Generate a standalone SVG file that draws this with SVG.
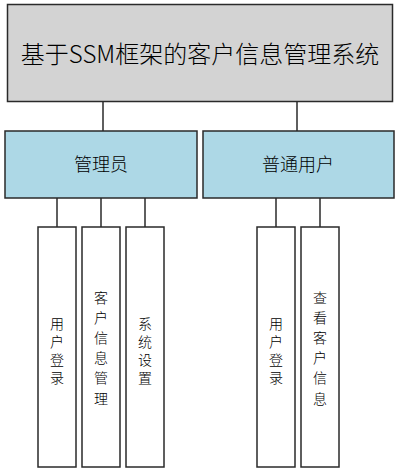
<svg xmlns="http://www.w3.org/2000/svg" width="400" height="473" viewBox="0 0 400 473">
<style>
.box{stroke:#2a2a2a;stroke-width:1.5}
.title{fill:#d3d3d3}
.role{fill:#add8e6}
.leaf{fill:#ffffff}
.conn{stroke:#2a2a2a;stroke-width:1.5;fill:none}
text{font-family:"Noto Sans CJK SC","Microsoft YaHei",sans-serif;font-weight:300;fill:#000;text-anchor:middle;dominant-baseline:central}
.t1{font-size:24px}
.t2{font-size:18px}
.t3{font-size:14px}
</style>
<rect width="400" height="473" fill="#ffffff"/>
<g id="connectors">
<line class="conn" x1="103" y1="101" x2="103" y2="131"/>
<line class="conn" x1="297" y1="101" x2="297" y2="131"/>
<line class="conn" x1="57" y1="198" x2="57" y2="227"/>
<line class="conn" x1="101" y1="198" x2="101" y2="227"/>
<line class="conn" x1="145" y1="198" x2="145" y2="227"/>
<line class="conn" x1="276" y1="198" x2="276" y2="227"/>
<line class="conn" x1="320" y1="198" x2="320" y2="227"/>
</g>
<g id="root">
<rect class="box title" x="7.5" y="4.5" width="385" height="97"/>
<text class="t1" x="200" y="52">基于SSM框架的客户信息管理系统</text>
</g>
<g id="admin">
<rect class="box role" x="5" y="131" width="192" height="67"/>
<text class="t2" x="101" y="163">管理员</text>
</g>
<g id="user">
<rect class="box role" x="203" y="131" width="191" height="67"/>
<text class="t2" x="298" y="163">普通用户</text>
</g>
<g id="admin-login">
<rect class="box leaf" x="38" y="227" width="38" height="240"/>
<text class="t3"><tspan x="57" y="323">用</tspan><tspan x="57" y="341">户</tspan><tspan x="57" y="359">登</tspan><tspan x="57" y="377">录</tspan></text>
</g>
<g id="customer-mgmt">
<rect class="box leaf" x="82" y="227" width="38" height="240"/>
<text class="t3"><tspan x="101" y="296.5">客</tspan><tspan x="101" y="316.7">户</tspan><tspan x="101" y="336.9">信</tspan><tspan x="101" y="357.1">息</tspan><tspan x="101" y="377.3">管</tspan><tspan x="101" y="397.5">理</tspan></text>
</g>
<g id="system-settings">
<rect class="box leaf" x="126" y="227" width="38" height="240"/>
<text class="t3"><tspan x="145" y="323">系</tspan><tspan x="145" y="341">统</tspan><tspan x="145" y="359">设</tspan><tspan x="145" y="377">置</tspan></text>
</g>
<g id="user-login">
<rect class="box leaf" x="257" y="227" width="38" height="240"/>
<text class="t3"><tspan x="276" y="323">用</tspan><tspan x="276" y="341">户</tspan><tspan x="276" y="359">登</tspan><tspan x="276" y="377">录</tspan></text>
</g>
<g id="view-customer">
<rect class="box leaf" x="301" y="227" width="38" height="240"/>
<text class="t3"><tspan x="320" y="296.5">查</tspan><tspan x="320" y="316.7">看</tspan><tspan x="320" y="336.9">客</tspan><tspan x="320" y="357.1">户</tspan><tspan x="320" y="377.3">信</tspan><tspan x="320" y="397.5">息</tspan></text>
</g>
</svg>
